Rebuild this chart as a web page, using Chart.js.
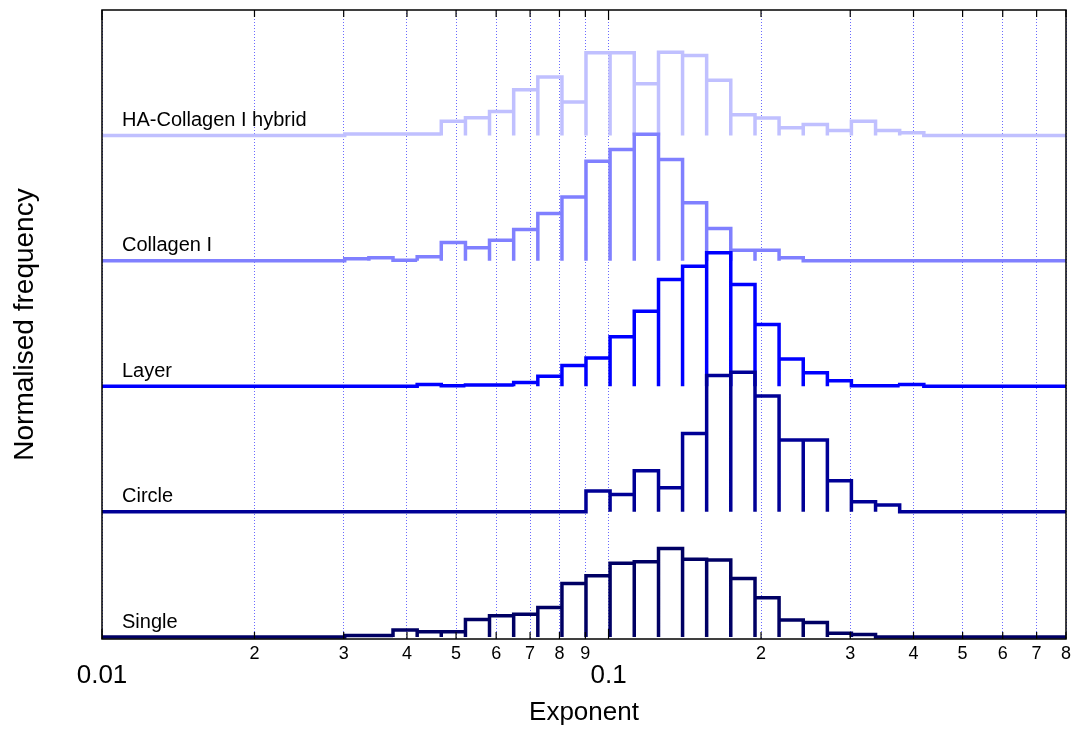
<!DOCTYPE html>
<html>
<head>
<meta charset="utf-8">
<title>Exponent histograms</title>
<script src="https://cdn.jsdelivr.net/npm/chart.js@4.4.1/dist/chart.umd.min.js"></script>
<style>
  html, body { margin: 0; padding: 0; background: #fff; }
  #wrap { width: 1071px; height: 747px; }
</style>
</head>
<body>
<div id="wrap"><canvas id="histChart"></canvas></div>
<script>
// Histogram bin edges (log spaced)
const binEdges = [0.03014, 0.03364, 0.03754, 0.04190, 0.04675, 0.05218, 0.05821, 0.06497, 0.07251,
    0.08091, 0.09025, 0.1007, 0.1124, 0.1255, 0.1400, 0.1562, 0.1743, 0.1946, 0.2171, 0.2423,
    0.2704, 0.3016, 0.3366, 0.3756, 0.4192, 0.4678, 0.5220];

const seriesNames = ['HA-Collagen I hybrid', 'Collagen I', 'Layer', 'Circle', 'Single'];
const seriesColors = ['#c0c0ff', '#8080ff', '#0000ff', '#000096', '#000064'];
const baselines = [4, 3, 2, 1, 0];

// normalised frequency per bin
const haHybrid = [0.012, 0.012, 0.012, 0.012, 0.114, 0.141, 0.191, 0.364, 0.465, 0.266, 0.66, 0.66, 0.412,
    0.664, 0.638, 0.439, 0.165, 0.138, 0.061, 0.088, 0.04, 0.114, 0.04, 0.022, 0, 0];
const collagen = [0.016, 0.024, 0.004, 0.032, 0.147, 0.104, 0.165, 0.25, 0.378, 0.51, 0.795, 0.888, 1.01,
    0.809, 0.463, 0.258, 0.085, 0.085, 0.024, 0, 0, 0, 0, 0, 0, 0];
const layer = [0, 0, 0, 0.015, 0.004, 0.01, 0.01, 0.03, 0.08, 0.165, 0.226, 0.394, 0.598,
    0.851, 0.957, 1.064, 0.811, 0.492, 0.218, 0.107, 0.045, 0.004, 0.004, 0.015, 0, 0];
const circle = [0, 0, 0, 0, 0, 0, 0, 0, 0, 0, 0.165, 0.138, 0.327,
    0.191, 0.624, 1.085, 1.111, 0.923, 0.572, 0.572, 0.247, 0.08, 0.053, 0, 0, 0];
const single = [0.012, 0.012, 0.056, 0.042, 0.042, 0.141, 0.17, 0.183, 0.237, 0.428, 0.489, 0.588, 0.60,
    0.707, 0.62, 0.614, 0.468, 0.313, 0.136, 0.117, 0.03, 0.02, 0, 0, 0, 0];
const seriesData = [haHybrid, collagen, layer, circle, single];

// axis ticks
const gridTicks = [0.01, 0.02, 0.03, 0.04, 0.05, 0.06, 0.07, 0.08, 0.09, 0.1, 0.2, 0.3, 0.4, 0.5, 0.6, 0.7, 0.8];
const gridLabels = ['', '2', '3', '4', '5', '6', '7', '8', '9', '', '2', '3', '4', '5', '6', '7', '8'];
const decadeTicks = [0.01, 0.1];
const decadeLabels = ['0.01', '0.1'];

Chart.defaults.font.family = '"Liberation Sans", Arial, sans-serif';
Chart.defaults.color = '#000';

// outline of the bins, one rectangle after the other, sitting on its baseline
function outline(heights, base) {
    const pts = [{ x: 0.01, y: base }];
    heights.forEach((h, k) => {
        pts.push({ x: binEdges[k], y: base });
        pts.push({ x: binEdges[k], y: base + h });
        pts.push({ x: binEdges[k + 1], y: base + h });
        pts.push({ x: binEdges[k + 1], y: base });
    });
    pts.push({ x: 0.8, y: base });
    return pts;
}

const decorPlugin = {
    id: 'decor',
    afterDraw(chart) {
        const { ctx, chartArea: a, scales: { x, y } } = chart;
        ctx.save();
        // inward tick marks at top and bottom
        ctx.strokeStyle = '#000';
        ctx.lineWidth = 1.2;
        gridTicks.forEach(v => {
            const px = x.getPixelForValue(v);
            const len = decadeTicks.includes(v) ? 10 : 7;
            ctx.beginPath();
            ctx.moveTo(px, a.bottom); ctx.lineTo(px, a.bottom - len);
            ctx.moveTo(px, a.top); ctx.lineTo(px, a.top + len);
            ctx.stroke();
        });
        // frame
        ctx.lineWidth = 1.5;
        ctx.strokeRect(a.left, a.top, a.right - a.left, a.bottom - a.top);
        // series names
        ctx.fillStyle = '#000';
        ctx.font = '20px "Liberation Sans", Arial, sans-serif';
        ctx.textBaseline = 'middle';
        seriesNames.forEach((name, i) => {
            ctx.fillText(name, a.left + 20, y.getPixelForValue(baselines[i]) - 15);
        });
        ctx.restore();
    }
};

const datasets = seriesNames.map((name, i) => ({
    label: name,
    data: outline(seriesData[i], baselines[i]),
    borderColor: seriesColors[i],
    borderWidth: 3.5,
    borderJoinStyle: 'miter',
    borderCapStyle: 'butt',
    pointRadius: 0,
    showLine: true,
    fill: false,
    tension: 0,
    clip: false,
    order: 4 - i
}));

new Chart(document.getElementById('histChart'), {
    type: 'scatter',
    data: { datasets: datasets },
    plugins: [decorPlugin],
    options: {
        responsive: true,
        maintainAspectRatio: false,
        animation: false,
        layout: { padding: { top: 10, right: 5, bottom: 0, left: 0 } },
        plugins: {
            legend: { display: false },
            tooltip: { enabled: false }
        },
        scales: {
            x: {
                type: 'logarithmic',
                min: 0.01,
                max: 0.8,
                weight: 0,
                afterBuildTicks: s => { s.ticks = gridTicks.map(v => ({ value: v })); },
                afterFit: s => { s.height = 20; s.paddingRight = 0; s.paddingLeft = 0; },
                ticks: {
                    autoSkip: false, maxRotation: 0, padding: 4,
                    font: { size: 18 },
                    callback: (v, i) => gridLabels[i]
                },
                grid: { drawTicks: false, color: '#6a6aff', lineWidth: 1 },
                border: { display: false, dash: [1, 2] }
            },
            x2: {
                type: 'logarithmic',
                position: 'bottom',
                min: 0.01,
                max: 0.8,
                weight: 1,
                afterBuildTicks: s => { s.ticks = decadeTicks.map(v => ({ value: v })); },
                afterFit: s => { s.height = 88; s.paddingRight = 0; s.paddingLeft = 0; },
                ticks: {
                    autoSkip: false, maxRotation: 0, padding: 1,
                    font: { size: 26 },
                    callback: (v, i) => decadeLabels[i]
                },
                grid: { display: false, drawTicks: false },
                border: { display: false },
                title: { display: true, text: 'Exponent', font: { size: 26 }, padding: { top: 0, bottom: 19 } }
            },
            y: {
                min: -0.015,
                max: 5,
                afterFit: s => { s.width = 102; },
                ticks: { display: false },
                grid: { display: false, drawTicks: false },
                border: { display: false },
                title: { display: true, text: 'Normalised frequency', font: { size: 28 }, padding: { top: 8, bottom: 0 } }
            }
        }
    }
});
</script>
</body>
</html>
